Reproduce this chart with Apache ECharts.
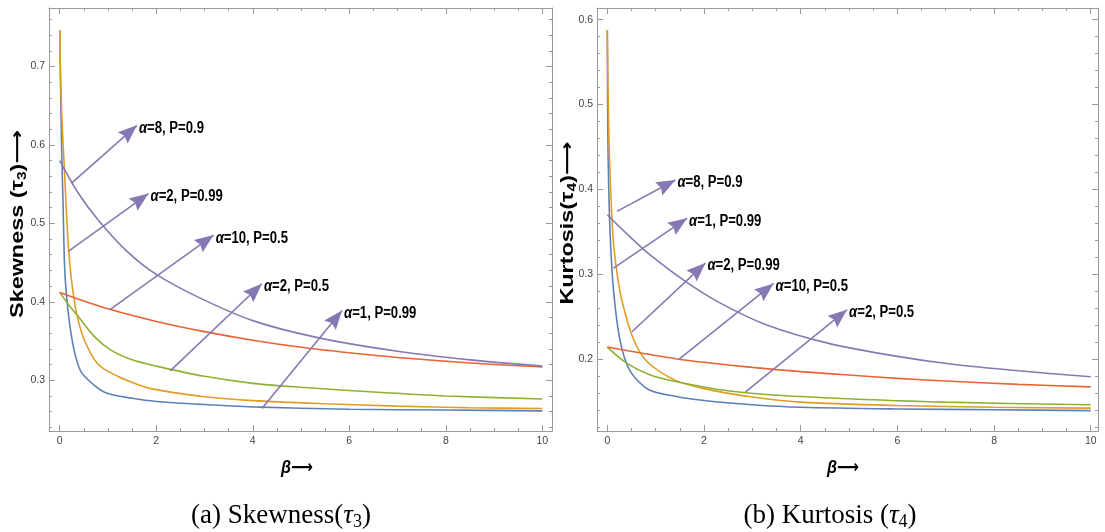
<!DOCTYPE html>
<html><head><meta charset="utf-8">
<script src="https://cdn.jsdelivr.net/npm/echarts@6/dist/echarts.min.js"></script>
<style>html,body{margin:0;padding:0;background:#fff}#c{width:1105px;height:532px}</style>
</head><body><div id="c"></div>
<script>
// ---------- data: panel (a) Skewness ----------
const skewBlue   = [[0,0.746],[0.035,0.61],[0.07,0.523],[0.1,0.447],[0.14,0.408],[0.21,0.37],[0.31,0.335],[0.45,0.31],[0.75,0.292],[1,0.283],[1.5,0.277],[2,0.273],[3,0.269],[4,0.266],[6,0.263],[8,0.262],[10,0.261]];
const skewOrange = [[0,0.746],[0.035,0.65],[0.1,0.565],[0.17,0.48],[0.24,0.43],[0.35,0.385],[0.52,0.35],[0.8,0.32],[1.2,0.305],[1.6,0.295],[2,0.288],[3,0.279],[4,0.274],[5.5,0.27],[7,0.267],[8.5,0.265],[10,0.264]];
const skewGreen  = [[0,0.412],[0.2,0.395],[0.4,0.38],[0.73,0.355],[1.07,0.338],[1.5,0.326],[2,0.318],[3,0.305],[4,0.296],[5,0.291],[6.5,0.285],[8,0.28],[10,0.276]];
const skewRed    = [[0,0.412],[1,0.391],[2,0.375],[3,0.362],[4,0.351],[5,0.342],[6,0.335],[7,0.329],[8.5,0.322],[10,0.317]];
const skewPurple = [[0,0.58],[0.38,0.539],[0.8,0.504],[1.4,0.464],[2,0.435],[2.9,0.405],[4,0.376],[5.3,0.355],[7,0.337],[8.5,0.326],[10,0.318]];
const skewArrowFrom = [[0.24,0.551],[0.17,0.464],[1.04,0.39],[2.29,0.312],[4.19,0.264]];
const skewArrowTo   = [[1.6,0.625],[1.84,0.538],[3.19,0.485],[4.19,0.423],[5.85,0.389]];
const skewArrowText = [['8','0.9'],['2','0.99'],['10','0.5'],['2','0.5'],['1','0.99']];

// ---------- data: panel (b) Kurtosis ----------
const kurtBlue   = [[0,0.588],[0.01,0.47],[0.03,0.4],[0.06,0.345],[0.13,0.28],[0.27,0.22],[0.47,0.186],[0.85,0.164],[1.4,0.156],[2,0.151],[3,0.146],[4,0.143],[6,0.141],[8,0.14],[10,0.139]];
const kurtOrange = [[0,0.588],[0.03,0.47],[0.08,0.385],[0.13,0.335],[0.23,0.29],[0.34,0.26],[0.55,0.222],[0.82,0.197],[1.4,0.175],[2,0.165],[3,0.155],[4,0.149],[6,0.145],[8,0.143],[10,0.142]];
const kurtGreen  = [[0,0.214],[0.4,0.195],[0.89,0.181],[1.44,0.173],[2.3,0.164],[3.3,0.158],[4.6,0.154],[7,0.149],[10,0.146]];
const kurtRed    = [[0,0.214],[0.7,0.207],[1.44,0.2],[2,0.196],[3,0.19],[4,0.185],[5,0.181],[6,0.177],[7,0.174],[8.5,0.17],[10,0.167]];
const kurtPurple = [[0,0.37],[0.45,0.345],[0.9,0.322],[1.6,0.292],[2.3,0.267],[3.3,0.24],[4.6,0.218],[6,0.203],[7.1,0.194],[8.5,0.186],[10,0.179]];
const kurtArrowFrom = [[0.2,0.374],[0.13,0.307],[0.51,0.232],[1.48,0.1996],[2.86,0.161]];
const kurtArrowTo   = [[1.41,0.411],[1.65,0.366],[2.03,0.313],[3.44,0.289],[4.96,0.258]];
const kurtArrowText = [['8','0.9'],['1','0.99'],['2','0.99'],['10','0.5'],['2','0.5']];

// ---------- ticks ----------
const xMajor = [0,2,4,6,8,10];
const xMinor = [0.5,1,1.5,2.5,3,3.5,4.5,5,5.5,6.5,7,7.5,8.5,9,9.5];
const skewYMajor = [0.3,0.4,0.5,0.6,0.7];
const skewYMinor = [0.24,0.26,0.28,0.32,0.34,0.36,0.38,0.42,0.44,0.46,0.48,0.52,0.54,0.56,0.58,0.62,0.64,0.66,0.68,0.72,0.74,0.76];
const kurtYMajor = [0.2,0.3,0.4,0.5,0.6];
const kurtYMinor = [0.12,0.14,0.16,0.18,0.22,0.24,0.26,0.28,0.32,0.34,0.36,0.38,0.42,0.44,0.46,0.48,0.52,0.54,0.56,0.58];

const COLORS = ['#5E81B5','#E19C24','#8FB032','#EB6235','#8778B3'];
const FRAME = '#9a9a9a';
const SANS = '"Liberation Sans",Arial,"DejaVu Sans",sans-serif';
const SERIF = '"Liberation Serif","Times New Roman","DejaVu Serif",serif';
const HEAD = 'path://M0,-18M0,0L7.5,18L0,15.5L-7.5,18Z';

function xAxes(g, min, max) {
  const base = {type:'value', gridIndex:g, min, max, splitLine:{show:false}};
  return [
    Object.assign({}, base, {position:'bottom',
      axisLine:{show:true,onZero:false,lineStyle:{color:FRAME,width:1}},
      axisTick:{show:true,inside:true,length:6,customValues:xMajor,lineStyle:{color:FRAME}},
      axisLabel:{show:true,customValues:xMajor,margin:5,fontFamily:SANS,fontSize:10.5,color:'#444'}}),
    Object.assign({}, base, {position:'bottom', axisLine:{show:false,onZero:false},
      axisTick:{show:true,inside:true,length:3,customValues:xMinor,lineStyle:{color:FRAME}},
      axisLabel:{show:false}}),
    Object.assign({}, base, {position:'top',
      axisLine:{show:true,onZero:false,lineStyle:{color:FRAME,width:1}},
      axisTick:{show:true,inside:true,length:6,customValues:xMajor,lineStyle:{color:FRAME}},
      axisLabel:{show:false}}),
    Object.assign({}, base, {position:'top', axisLine:{show:false,onZero:false},
      axisTick:{show:true,inside:true,length:3,customValues:xMinor,lineStyle:{color:FRAME}},
      axisLabel:{show:false}})
  ];
}
function yAxes(g, min, max, major, minor) {
  const base = {type:'value', gridIndex:g, min, max, splitLine:{show:false}};
  return [
    Object.assign({}, base, {position:'left',
      axisLine:{show:true,onZero:false,lineStyle:{color:FRAME,width:1}},
      axisTick:{show:true,inside:true,length:6,customValues:major,lineStyle:{color:FRAME}},
      axisLabel:{show:true,customValues:major,margin:4,fontFamily:SANS,fontSize:10.5,color:'#444'}}),
    Object.assign({}, base, {position:'left', axisLine:{show:false,onZero:false},
      axisTick:{show:true,inside:true,length:3,customValues:minor,lineStyle:{color:FRAME}},
      axisLabel:{show:false}}),
    Object.assign({}, base, {position:'right',
      axisLine:{show:true,onZero:false,lineStyle:{color:FRAME,width:1}},
      axisTick:{show:true,inside:true,length:6,customValues:major,lineStyle:{color:FRAME}},
      axisLabel:{show:false}}),
    Object.assign({}, base, {position:'right', axisLine:{show:false,onZero:false},
      axisTick:{show:true,inside:true,length:3,customValues:minor,lineStyle:{color:FRAME}},
      axisLabel:{show:false}})
  ];
}

function curves(list, xi, yi) {
  return list.map((d, i) => ({
    type:'line', xAxisIndex:xi, yAxisIndex:yi, data:d, showSymbol:false, symbol:'none',
    smooth:0.3, clip:true, silent:true,
    lineStyle:{color:COLORS[i], width:1.6}, z:2
  }));
}
function arrows(from, to, xi, yi) {
  return {type:'lines', coordinateSystem:'cartesian2d', xAxisIndex:xi, yAxisIndex:yi, silent:true,
     symbol:['none', HEAD], symbolSize:[[15,38],[15,38]], z:3,
     itemStyle:{color:COLORS[4]},
     lineStyle:{color:COLORS[4], width:1.6, opacity:1, curveness:0},
     data: from.map((f, i) => ({coords:[f, to[i]]}))};
}

const chart = echarts.init(document.getElementById('c'), null, {renderer:'canvas'});
chart.setOption({
  animation:false,
  backgroundColor:'#fff',
  grid:[
    {left:49, top:8, width:503, height:423},
    {left:597, top:8, width:501, height:423}
  ],
  xAxis: xAxes(0, -0.222, 10.2).concat(xAxes(1, -0.213, 10.15)),
  yAxis: yAxes(0, 0.2353, 0.7745, skewYMajor, skewYMinor)
          .concat(yAxes(1, 0.115, 0.6138, kurtYMajor, kurtYMinor)),
  series: []
    .concat(curves([skewBlue, skewOrange, skewGreen, skewRed, skewPurple], 0, 0))
    .concat([arrows(skewArrowFrom, skewArrowTo, 0, 0)])
    .concat(curves([kurtBlue, kurtOrange, kurtGreen, kurtRed, kurtPurple], 4, 4))
    .concat([arrows(kurtArrowFrom, kurtArrowTo, 4, 4)])
});

// ---------- texts (labels placed through the chart's own scales) ----------
const labelRich = {
  a:{fontFamily:SANS,fontWeight:'bold',fontStyle:'italic',fontSize:16,color:'#000'},
  b:{fontFamily:SANS,fontWeight:'bold',fontSize:16,color:'#000'}
};
function arrowLabels(to, text, axisIdx) {
  return to.map((t, i) => {
    const p = chart.convertToPixel({xAxisIndex:axisIdx, yAxisIndex:axisIdx}, t);
    return {type:'text', x:p[0] + 2, y:p[1] + 3, scaleX:0.82, z:10, silent:true,
      style:{text:'{a|α}{b|=' + text[i][0] + ', P=' + text[i][1] + '}', rich:labelRich, align:'left', verticalAlign:'middle'}};
  });
}
const nameRich = {
  n:{fontFamily:SANS,fontWeight:'bold',fontSize:18,color:'#000',lineHeight:22},
  s:{fontFamily:SANS,fontWeight:'bold',fontSize:12,color:'#000',lineHeight:12,verticalAlign:'bottom'},
  b:{fontFamily:SANS,fontWeight:'bold',fontStyle:'italic',fontSize:19,color:'#000',lineHeight:22}
};
const captionRich = {
  a:{fontFamily:SERIF,fontSize:27,color:'#000',lineHeight:30},
  t:{fontFamily:SERIF,fontSize:27,fontStyle:'italic',color:'#000',lineHeight:30},
  s:{fontFamily:SERIF,fontSize:18,color:'#000',lineHeight:18,verticalAlign:'bottom'}
};
const g = []
  .concat(arrowLabels(skewArrowTo, skewArrowText, 0))
  .concat(arrowLabels(kurtArrowTo, kurtArrowText, 4))
  .concat([
    {type:'text', x:18, y:224, rotation:Math.PI/2, scaleX:1.3, silent:true,
     style:{text:'{n|Skewness (τ}{s|3}{n|)⟶}', rich:nameRich, align:'center', verticalAlign:'middle'}},
    {type:'text', x:568, y:223, rotation:Math.PI/2, scaleX:1.3, silent:true,
     style:{text:'{n|Kurtosis(τ}{s|4}{n|)⟶}', rich:nameRich, align:'center', verticalAlign:'middle'}},
    {type:'text', x:297, y:468, scaleX:0.85, silent:true,
     style:{text:'{b|β}{n|⟶}', rich:nameRich, align:'center', verticalAlign:'middle'}},
    {type:'text', x:843, y:468, scaleX:0.85, silent:true,
     style:{text:'{b|β}{n|⟶}', rich:nameRich, align:'center', verticalAlign:'middle'}},
    {type:'text', x:281, y:516, silent:true,
     style:{text:'{a|(a) Skewness(}{t|τ}{s|3}{a|)}', rich:captionRich, align:'center', verticalAlign:'middle'}},
    {type:'text', x:830, y:516, silent:true,
     style:{text:'{a|(b) Kurtosis (}{t|τ}{s|4}{a|)}', rich:captionRich, align:'center', verticalAlign:'middle'}}
  ]);
chart.setOption({graphic: g});
</script></body></html>
